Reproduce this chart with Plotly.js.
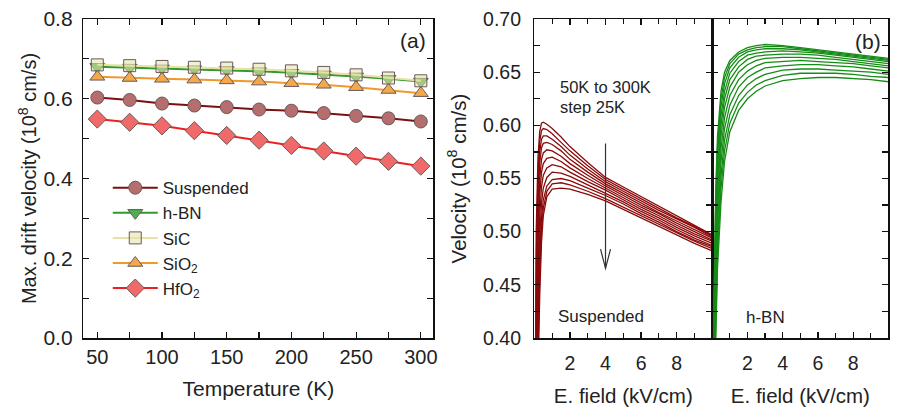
<!DOCTYPE html>
<html>
<head>
<meta charset="utf-8">
<script src="https://cdn.plot.ly/plotly-3.0.1.min.js"></script>
<style>html,body{margin:0;padding:0;background:#fff;}#chart{width:898px;height:410px;}</style>
</head>
<body>
<div id="chart"></div>
<script>
// ---- Panel (a): maximum drift velocity vs temperature ----
const temperatureK = [50, 75, 100, 125, 150, 175, 200, 225, 250, 275, 300];
const vmaxSuspended = [0.603, 0.597, 0.588, 0.583, 0.579, 0.573, 0.570, 0.564, 0.557, 0.551, 0.543];
const vmaxHBN       = [0.680, 0.678, 0.676, 0.674, 0.672, 0.669, 0.665, 0.661, 0.656, 0.650, 0.643];
const vmaxSiC       = [0.685, 0.683, 0.681, 0.679, 0.677, 0.674, 0.670, 0.666, 0.660, 0.652, 0.645];
const vmaxSiO2      = [0.655, 0.652, 0.650, 0.648, 0.646, 0.643, 0.639, 0.635, 0.629, 0.622, 0.614];
const vmaxHfO2      = [0.549, 0.541, 0.532, 0.520, 0.508, 0.496, 0.483, 0.469, 0.456, 0.443, 0.431];
const seriesNames = ["Suspended", "h-BN", "SiC", "SiO<sub>2</sub>", "HfO<sub>2</sub>"];

// ---- Panel (b): velocity vs electric field, 50K..300K step 25K ----
const curveTempsK = [50, 75, 100, 125, 150, 175, 200, 225, 250, 275, 300];
const fieldSuspended = [0, 0.1, 0.2, 0.3, 0.4, 0.5, 0.7, 1.0, 1.5, 2, 3, 4, 5, 6, 7, 8, 9, 10];
const velSuspended = [
  [0, 0.500, 0.570, 0.594, 0.602, 0.603, 0.601, 0.597, 0.589, 0.580, 0.565, 0.551, 0.542, 0.533, 0.524, 0.515, 0.506, 0.497],
  [0, 0.470, 0.555, 0.585, 0.595, 0.597, 0.596, 0.592, 0.584, 0.576, 0.562, 0.549, 0.540, 0.531, 0.522, 0.513, 0.505, 0.496],
  [0, 0.440, 0.540, 0.575, 0.587, 0.590, 0.590, 0.587, 0.580, 0.572, 0.559, 0.547, 0.538, 0.529, 0.520, 0.512, 0.504, 0.495],
  [0, 0.410, 0.525, 0.565, 0.579, 0.583, 0.584, 0.582, 0.576, 0.568, 0.556, 0.545, 0.536, 0.527, 0.518, 0.510, 0.502, 0.494],
  [0, 0.380, 0.505, 0.550, 0.568, 0.574, 0.577, 0.576, 0.571, 0.564, 0.553, 0.543, 0.534, 0.525, 0.517, 0.508, 0.500, 0.492],
  [0, 0.350, 0.485, 0.535, 0.556, 0.564, 0.569, 0.570, 0.566, 0.560, 0.550, 0.541, 0.532, 0.523, 0.515, 0.506, 0.498, 0.491],
  [0, 0.320, 0.460, 0.515, 0.542, 0.553, 0.560, 0.563, 0.561, 0.556, 0.547, 0.539, 0.530, 0.521, 0.513, 0.504, 0.496, 0.489],
  [0, 0.290, 0.435, 0.495, 0.527, 0.541, 0.551, 0.556, 0.555, 0.552, 0.544, 0.536, 0.528, 0.519, 0.511, 0.502, 0.494, 0.487],
  [0, 0.260, 0.410, 0.478, 0.513, 0.530, 0.543, 0.549, 0.550, 0.548, 0.541, 0.534, 0.526, 0.517, 0.509, 0.500, 0.492, 0.486],
  [0, 0.230, 0.385, 0.460, 0.502, 0.522, 0.538, 0.545, 0.546, 0.544, 0.538, 0.531, 0.523, 0.515, 0.507, 0.499, 0.491, 0.484],
  [0, 0.200, 0.360, 0.440, 0.490, 0.515, 0.533, 0.540, 0.541, 0.540, 0.535, 0.529, 0.521, 0.513, 0.505, 0.497, 0.489, 0.482]
];
const fieldHBN = [0, 0.1, 0.2, 0.3, 0.5, 0.7, 1.0, 1.5, 2, 2.5, 3, 4, 5, 6, 7, 8, 9, 10];
const velHBN = [
  [0, 0.440, 0.540, 0.590, 0.632, 0.650, 0.661, 0.669, 0.673, 0.675, 0.676, 0.675, 0.673, 0.671, 0.669, 0.667, 0.665, 0.663],
  [0, 0.425, 0.528, 0.580, 0.625, 0.645, 0.658, 0.667, 0.671, 0.673, 0.674, 0.674, 0.672, 0.670, 0.668, 0.666, 0.664, 0.662],
  [0, 0.410, 0.515, 0.570, 0.618, 0.639, 0.654, 0.664, 0.669, 0.671, 0.672, 0.672, 0.671, 0.669, 0.667, 0.665, 0.663, 0.661],
  [0, 0.395, 0.502, 0.558, 0.609, 0.632, 0.649, 0.660, 0.666, 0.668, 0.669, 0.670, 0.669, 0.668, 0.666, 0.664, 0.662, 0.660],
  [0, 0.380, 0.488, 0.545, 0.600, 0.625, 0.643, 0.655, 0.662, 0.665, 0.666, 0.667, 0.667, 0.666, 0.664, 0.662, 0.660, 0.658],
  [0, 0.365, 0.473, 0.532, 0.590, 0.617, 0.636, 0.650, 0.657, 0.661, 0.663, 0.664, 0.664, 0.663, 0.662, 0.660, 0.658, 0.656],
  [0, 0.350, 0.458, 0.518, 0.578, 0.607, 0.628, 0.643, 0.651, 0.656, 0.659, 0.660, 0.661, 0.660, 0.659, 0.658, 0.656, 0.654],
  [0, 0.335, 0.443, 0.505, 0.566, 0.597, 0.619, 0.636, 0.645, 0.650, 0.654, 0.656, 0.657, 0.657, 0.656, 0.655, 0.653, 0.651],
  [0, 0.320, 0.428, 0.490, 0.553, 0.586, 0.610, 0.628, 0.638, 0.644, 0.648, 0.652, 0.653, 0.653, 0.652, 0.651, 0.650, 0.648],
  [0, 0.305, 0.413, 0.478, 0.541, 0.576, 0.602, 0.621, 0.631, 0.638, 0.642, 0.647, 0.649, 0.649, 0.649, 0.648, 0.646, 0.645],
  [0, 0.290, 0.398, 0.465, 0.528, 0.566, 0.594, 0.614, 0.625, 0.632, 0.637, 0.642, 0.644, 0.645, 0.645, 0.644, 0.643, 0.641]
];

const textColor = "#222";
const FONT = "Liberation Sans, Arial, sans-serif";

const styles = [
  {y: vmaxSuspended, line: "#7a1010", fill: "#b56d6d", sym: "circle", size: 13},
  {y: vmaxHBN, line: "#2f9a2f", fill: "#4fae4f", sym: "triangle-down", size: 13},
  {y: vmaxSiC, line: "#e6e2a2", fill: "rgba(228,226,170,0.55)", sym: "square", size: 12},
  {y: vmaxSiO2, line: "#f0982c", fill: "#f5a84a", sym: "triangle-up", size: 13},
  {y: vmaxHfO2, line: "#ec2020", fill: "#f06a6a", sym: "diamond", size: 14}
];

const traces = [];
styles.forEach((s, i) => {
  traces.push({
    type: "scatter", mode: "lines+markers", name: seriesNames[i],
    x: temperatureK, y: s.y, xaxis: "x", yaxis: "y",
    line: {color: s.line, width: 2},
    marker: {symbol: s.sym, size: s.size, color: s.fill, line: {color: "#6a5a5a", width: 1}},
    legendrank: i + 1
  });
});

velSuspended.forEach((row, i) => {
  traces.push({
    type: "scatter", mode: "lines", name: "Suspended " + curveTempsK[i] + "K",
    x: fieldSuspended, y: row, xaxis: "x2", yaxis: "y2", showlegend: false,
    line: {color: "#8b0a0a", width: 1.3}
  });
});
velHBN.forEach((row, i) => {
  traces.push({
    type: "scatter", mode: "lines", name: "h-BN " + curveTempsK[i] + "K",
    x: fieldHBN, y: row, xaxis: "x3", yaxis: "y3", showlegend: false,
    line: {color: "#168c16", width: 1.3}
  });
});

const Y0 = 1 - 338 / 410, Y1 = 1 - 19 / 410;
const axBase = {
  showline: true, linecolor: "#111", linewidth: 1.5, mirror: "allticks",
  ticks: "inside", ticklen: 6, tickwidth: 1.2, tickcolor: "#111",
  showgrid: false, zeroline: false,
  tickfont: {family: FONT, size: 19.5, color: textColor}
};

const ann = (x, y, text, size, xanchor) => ({
  xref: "paper", yref: "paper", x: x / 898, y: 1 - y / 410, text: text, showarrow: false,
  xanchor: xanchor || "center", yanchor: "middle",
  font: {family: FONT, size: size, color: textColor}
});

const layout = {
  width: 898, height: 410,
  margin: {l: 0, r: 0, t: 0, b: 0},
  paper_bgcolor: "#fff", plot_bgcolor: "#fff",
  font: {family: FONT, color: textColor},
  showlegend: true,
  legend: {
    x: 0.12, y: 0.585, xanchor: "left", yanchor: "top",
    bgcolor: "rgba(0,0,0,0)", font: {family: FONT, size: 17, color: textColor},
    tracegroupgap: 0, itemwidth: 45
  },
  xaxis: Object.assign({}, axBase, {
    domain: [0.0928, 0.4826], range: [39.2, 309.7], anchor: "y",
    tickvals: [50, 100, 150, 200, 250, 300],
    minor: {dtick: 25, tick0: 0, ticks: "inside", ticklen: 6, tickwidth: 1.2, tickcolor: "#111"},
    tickfont: {family: FONT, size: 20, color: textColor},
    title: {text: "Temperature (K)", font: {family: FONT, size: 21, color: textColor}, standoff: 15}
  }),
  yaxis: Object.assign({}, axBase, {
    domain: [Y0, Y1], range: [0, 0.8], anchor: "x",
    dtick: 0.2, tick0: 0, tickformat: ".1f",
    minor: {dtick: 0.1, ticks: "inside", ticklen: 6, tickwidth: 1.2, tickcolor: "#111"},
    tickfont: {family: FONT, size: 21, color: textColor},
    ticklabelstandoff: 5,
    title: {text: "Max. drift velocity (10<sup>8</sup> cm/s)", font: {family: FONT, size: 20, color: textColor}, standoff: 1}
  }),
  xaxis2: Object.assign({}, axBase, {
    domain: [0.5951, 0.7931], range: [0, 10], anchor: "y2",
    tickvals: [2, 4, 6, 8], ticklabelstandoff: 7,
    minor: {dtick: 1, tick0: 0, ticks: "inside", ticklen: 5, tickwidth: 1.2, tickcolor: "#111"},
    title: {text: "E. field (kV/cm)", font: {family: FONT, size: 20.5, color: textColor}, standoff: 15}
  }),
  yaxis2: Object.assign({}, axBase, {
    domain: [Y0, Y1], range: [0.40, 0.70], anchor: "x2",
    dtick: 0.05, tick0: 0.4, tickformat: ".2f",
    minor: {dtick: 0.025, ticks: "inside", ticklen: 6, tickwidth: 1.2, tickcolor: "#111"},
    ticklabelstandoff: 8,
    title: {text: "Velocity (10<sup>8</sup> cm/s)", font: {family: FONT, size: 20.5, color: textColor}, standoff: 11}
  }),
  xaxis3: Object.assign({}, axBase, {
    domain: [0.7931, 0.9894], range: [0, 10], anchor: "y3",
    tickvals: [2, 4, 6, 8], ticklabelstandoff: 7,
    minor: {dtick: 1, tick0: 0, ticks: "inside", ticklen: 5, tickwidth: 1.2, tickcolor: "#111"},
    title: {text: "E. field (kV/cm)", font: {family: FONT, size: 20.5, color: textColor}, standoff: 15}
  }),
  yaxis3: Object.assign({}, axBase, {
    domain: [Y0, Y1], range: [0.40, 0.70], anchor: "x3",
    dtick: 0.05, tick0: 0.4, showticklabels: false,
    minor: {dtick: 0.025, ticks: "inside", ticklen: 6, tickwidth: 1.2, tickcolor: "#111"}
  }),
  annotations: [
    ann(413, 41, "(a)", 21),
    ann(868, 42, "(b)", 21),
    ann(558, 87.5, "50K to 300K", 16.5, "left"),
    ann(558, 107, "step 25K", 16.5, "left"),
    ann(556, 316, "Suspended", 17, "left"),
    ann(744, 317.5, "h-BN", 17, "left")
  ],
  shapes: [
    {type: "line", xref: "x2", yref: "y2", x0: 4, x1: 4, y0: 0.583, y1: 0.4655, line: {color: "#333", width: 1.2}},
    {type: "path", xref: "x2", yref: "y2", path: "M 3.72 0.4835 L 4 0.4655 L 4.28 0.4835", line: {color: "#333", width: 1.2}}
  ]
};

Plotly.newPlot("chart", traces, layout, {displayModeBar: false, staticPlot: true});
</script>
</body>
</html>
